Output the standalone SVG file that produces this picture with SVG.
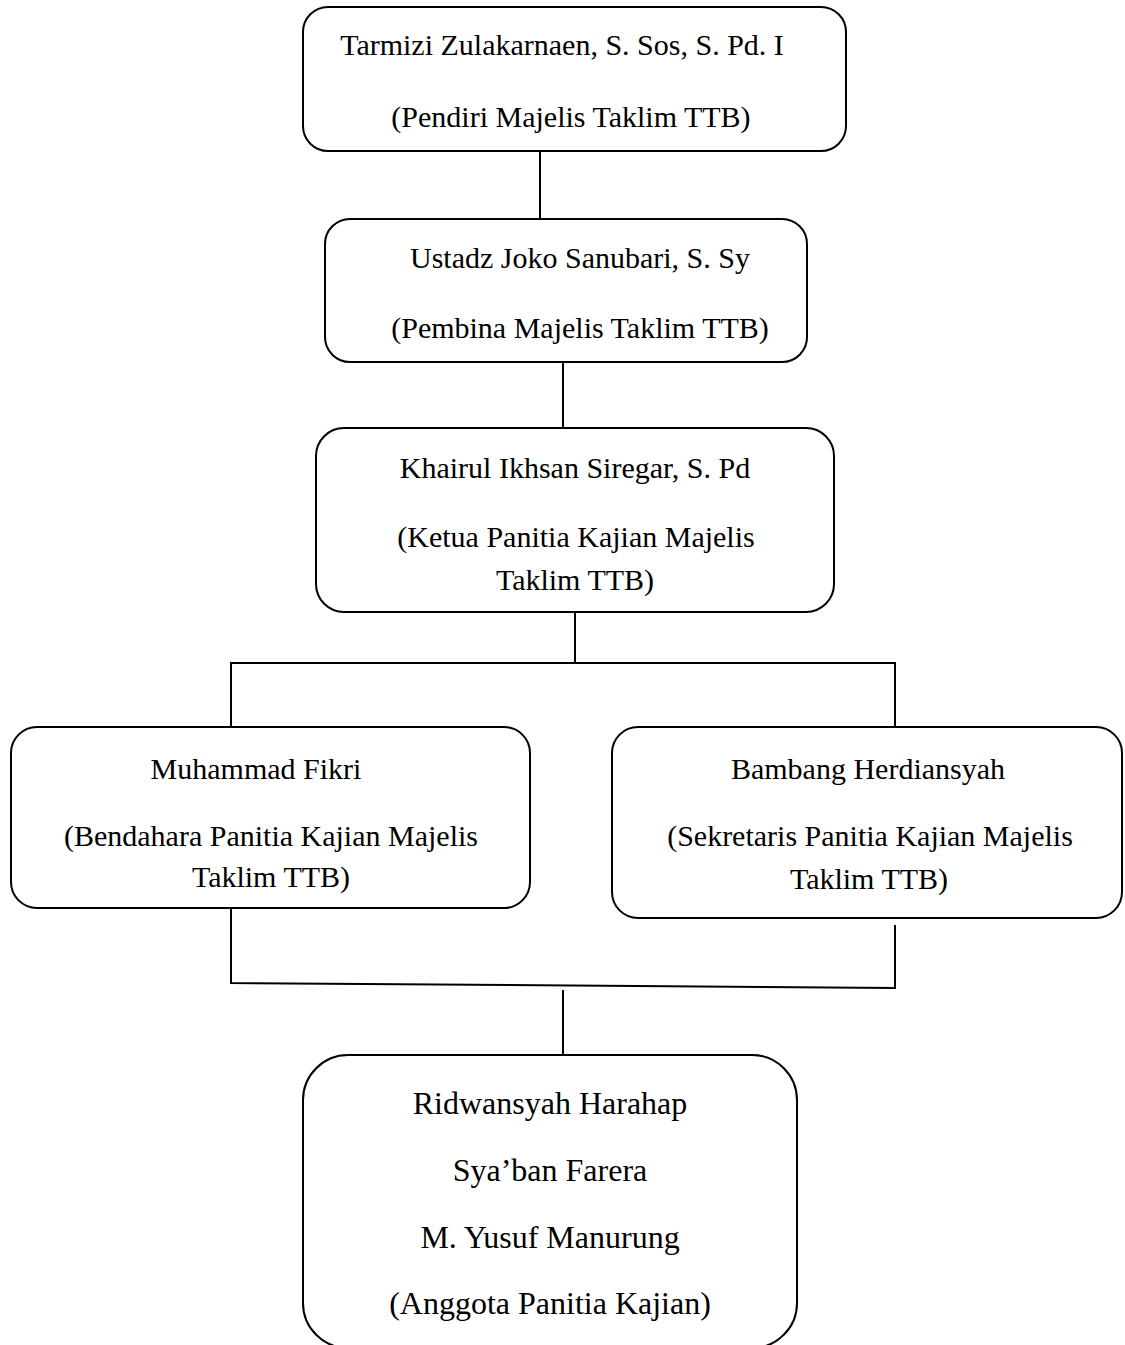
<svg xmlns="http://www.w3.org/2000/svg" width="1125" height="1345" viewBox="0 0 1125 1345">
<style>
.box{fill:#fff;stroke:#000;stroke-width:2}
.t{font-family:"Liberation Serif","Times New Roman",serif;font-size:30px;fill:#000;text-anchor:middle}
.big{font-size:32px}
.c{fill:none;stroke:#000;stroke-width:2}
</style>
<rect width="1125" height="1345" fill="#fff"/>
<g id="connectors">
<line class="c" x1="540" y1="151" x2="540" y2="219"/>
<line class="c" x1="563" y1="362" x2="563" y2="428"/>
<line class="c" x1="575" y1="612" x2="575" y2="663"/>
<polyline class="c" points="231,727 231,663 895,663 895,727"/>
<polyline class="c" points="231,908 231,983 895,988 895,925"/>
<line class="c" x1="563" y1="990" x2="563" y2="1055"/>
</g>
<g id="n1">
<rect class="box" x="303" y="7" width="543" height="144" rx="25"/>
<text class="t" x="562" y="55">Tarmizi Zulakarnaen, S. Sos, S. Pd. I</text>
<text class="t" x="571" y="127">(Pendiri Majelis Taklim TTB)</text>
</g>
<g id="n2">
<rect class="box" x="325" y="219" width="482" height="143" rx="25"/>
<text class="t" x="580" y="268">Ustadz Joko Sanubari, S. Sy</text>
<text class="t" x="580" y="338">(Pembina Majelis Taklim TTB)</text>
</g>
<g id="n3">
<rect class="box" x="316" y="428" width="518" height="184" rx="28"/>
<text class="t" x="575" y="478">Khairul Ikhsan Siregar, S. Pd</text>
<text class="t" x="576" y="547">(Ketua Panitia Kajian Majelis</text>
<text class="t" x="575" y="590">Taklim TTB)</text>
</g>
<g id="n4">
<rect class="box" x="11" y="727" width="519" height="181" rx="26"/>
<text class="t" x="256" y="779">Muhammad Fikri</text>
<text class="t" x="271" y="846">(Bendahara Panitia Kajian Majelis</text>
<text class="t" x="271" y="887">Taklim TTB)</text>
</g>
<g id="n5">
<rect class="box" x="612" y="727" width="510" height="191" rx="26"/>
<text class="t" x="868" y="779">Bambang Herdiansyah</text>
<text class="t" x="870" y="846">(Sekretaris Panitia Kajian Majelis</text>
<text class="t" x="869" y="889">Taklim TTB)</text>
</g>
<g id="n6">
<rect class="box" x="303" y="1055" width="494" height="293" rx="45"/>
<text class="t big" x="550" y="1114">Ridwansyah Harahap</text>
<text class="t big" x="550" y="1181">Sya’ban Farera</text>
<text class="t big" x="550" y="1248">M. Yusuf Manurung</text>
<text class="t big" x="550" y="1314">(Anggota Panitia Kajian)</text>
</g>
</svg>
